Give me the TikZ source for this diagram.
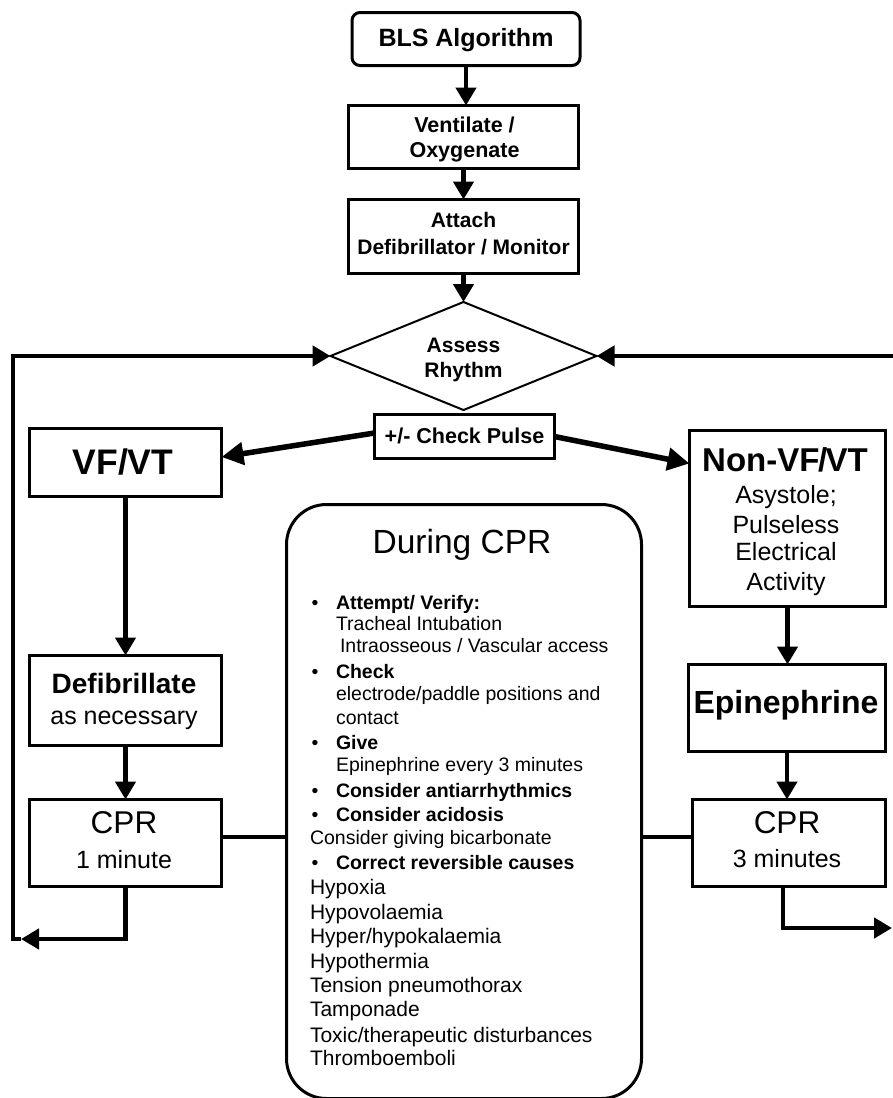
\documentclass[tikz,border=0pt]{standalone}
\usepackage{fontspec}
\setmainfont{Liberation Sans}
\usetikzlibrary{arrows.meta,calc,shapes.geometric}
\newcommand\fsz[1]{\fontsize{#1pt}{#1pt}\selectfont}
\begin{document}
\begin{tikzpicture}[x=1pt,y=-1pt,
  box/.style={draw,line width=3pt,inner sep=0pt,outer sep=0pt},
  t/.style={anchor=base,inner sep=0pt,outer sep=0pt},
  tl/.style={anchor=base west,inner sep=0pt,outer sep=0pt,font=\fsz{19.5}},
  tlb/.style={tl,font=\fsz{21}},
  tb/.style={tl,font={\fsz{19.5}\bfseries}},
  bul/.style={anchor=base,inner sep=0pt,outer sep=0pt,font=\fsz{19.5}},
  arr/.style={line width=4.5pt,line join=miter,-{Triangle[length=18pt,width=20pt]}},
  darr/.style={line width=5.5pt,-{Triangle[length=22pt,width=22pt]}},
  conn/.style={line width=4.5pt}
]
\useasboundingbox (0,0) rectangle (892,1098);
\fill[white] (0,0) rectangle (892,1098);

% boxes
\node[box,rounded corners=8pt,minimum width=228pt,minimum height=53pt] (bls) at (466,39) {};
\node[box,minimum width=230pt,minimum height=63pt] (vent) at (463.5,137) {};
\node[box,minimum width=230pt,minimum height=74pt] (attach) at (463.5,236.5) {};
\node[draw,diamond,line width=2pt,inner sep=0pt,outer sep=0pt,shape aspect=2.45,minimum width=266pt,minimum height=108pt] (assess) at (463.5,356) {};
\node[box,minimum width=180pt,minimum height=44pt] (cp) at (464.5,436.5) {};
\node[box,minimum width=192pt,minimum height=68pt] (vf) at (125.5,462.5) {};
\node[box,minimum width=196pt,minimum height=176pt] (nonvf) at (787.5,518.5) {};
\node[box,minimum width=192pt,minimum height=90pt] (defib) at (125.5,700.5) {};
\node[box,minimum width=192pt,minimum height=87pt] (cpr1) at (125.5,843) {};
\node[box,minimum width=197pt,minimum height=87pt] (epi) at (787,708) {};
\node[box,minimum width=193pt,minimum height=87pt] (cpr3) at (789,843) {};
\node[box,rounded corners=40pt,minimum width=355pt,minimum height=594pt] (during) at (464,801.5) {};

% box texts
\node[t,font={\fsz{25}\bfseries}] (tbls) at (466,46) {BLS Algorithm};
\node[t,font={\fsz{21.5}\bfseries}] (tvent1) at (464.5,132) {Ventilate /};
\node[t,font={\fsz{21.5}\bfseries}] (tvent2) at (464.5,157) {Oxygenate};
\node[t,font={\fsz{21}\bfseries}] (tatt1) at (463.5,227) {Attach};
\node[t,font={\fsz{21}\bfseries}] (tatt2) at (463.5,254) {Defibrillator / Monitor};
\node[t,font={\fsz{21}\bfseries}] (tas1) at (463.5,352) {Assess};
\node[t,font={\fsz{21}\bfseries}] (tas2) at (463.5,377) {Rhythm};
\node[t,font={\fsz{21.5}\bfseries}] (tcp) at (464.5,443) {+/- Check Pulse};
\node[t,font={\fsz{35.5}\bfseries}] (tvf) at (123,474) {VF/VT};
\node[t,font={\fsz{33}\bfseries}] (tnv1) at (785,471) {Non-VF\kern-1.5pt/\kern-1.5pt VT};
\node[t,font=\fsz{25}] (tnv2) at (786,503) {Asystole;};
\node[t,font=\fsz{25}] (tnv3) at (786,533) {Pulseless};
\node[t,font=\fsz{25}] (tnv4) at (786,560) {Electrical};
\node[t,font=\fsz{25}] (tnv5) at (786,590) {Activity};
\node[t,font={\fsz{28}\bfseries}] (tdf1) at (124,693) {Defibrillate};
\node[t,font=\fsz{25}] (tdf2) at (124,724) {as necessary};
\node[t,font=\fsz{31.5}] (tc1a) at (124,833) {CPR};
\node[t,font=\fsz{25}] (tc1b) at (124,868) {1 minute};
\node[t,font={\fsz{32}\bfseries}] (tepi) at (786,713) {Epinephrine};
\node[t,font=\fsz{31.5}] (tc3a) at (787,833) {CPR};
\node[t,font=\fsz{25}] (tc3b) at (787,867) {3 minutes};
\node[t,font=\fsz{33.5}] (tdur) at (462,553) {During CPR};

% list in During CPR
\node[bul] (b1) at (315,609) {•};
\node[tb] (i1) at (336,609) {Attempt/ Verify:};
\node[tl] (i2) at (336,630) {Tracheal Intubation};
\node[tl] (i3) at (340,652) {Intraosseous / Vascular access};
\node[bul] (b2) at (315,678) {•};
\node[tb] (i4) at (336,678) {Check};
\node[tl] (i5) at (336,700) {electrode/paddle positions and};
\node[tl] (i6) at (336,724) {contact};
\node[bul] (b3) at (315,749) {•};
\node[tb] (i7) at (336,749) {Give};
\node[tl] (i8) at (336,771) {Epinephrine every 3 minutes};
\node[bul] (b4) at (315,797) {•};
\node[tb] (i9) at (336,797) {Consider antiarrhythmics};
\node[bul] (b5) at (315,821) {•};
\node[tb] (i10) at (336,821) {Consider acidosis};
\node[tl] (i11) at (310,844) {Consider giving bicarbonate};
\node[bul] (b6) at (315,869) {•};
\node[tb] (i12) at (336,869) {Correct reversible causes};
\node[tlb] (i13) at (310,894) {Hypoxia};
\node[tlb] (i14) at (310,919) {Hypovolaemia};
\node[tlb] (i15) at (310,943) {Hyper/hypokalaemia};
\node[tlb] (i16) at (310,968) {Hypothermia};
\node[tlb] (i17) at (310,992) {Tension pneumothorax};
\node[tlb] (i18) at (310,1016) {Tamponade};
\node[tlb] (i19) at (310,1042) {Toxic/therapeutic disturbances};
\node[tlb] (i20) at (310,1065) {Thromboemboli};

% vertical arrows
\draw[arr] (bls.south) -- (bls.south |- vent.north);
\draw[arr] (vent.south) -- (vent.south |- attach.north);
\draw[arr] (attach.south) -- (attach.south |- assess.north);
\draw[arr] (vf.south) -- (vf.south |- defib.north);
\draw[arr] (defib.south) -- (defib.south |- cpr1.north);
\draw[arr] (nonvf.south) -- (nonvf.south |- epi.north);
\draw[arr] (epi.south) -- (epi.south |- cpr3.north);

% diagonal arrows
\draw[darr] ($(cp.west)+(0,-3.5)$) -- ($(vf.east)+(0,-5.5)$);
\draw[darr] (cp.east) -- ($(nonvf.west)+(0,-55)$);

% connectors to During CPR
\coordinate (c1) at ($(cpr1.east)+(0,-6)$);
\draw[conn] (c1) -- (c1 -| during.west);
\coordinate (c2) at ($(cpr3.west)+(0,-6)$);
\draw[conn] (c2) -- (c2 -| during.east);

% loops
\coordinate (ltip) at (21,939);
\coordinate (lcorner) at (13,939);
\draw[arr] (cpr1.south) |- (ltip);
\draw[arr] (ltip) -- (lcorner) |- (assess.west);
\coordinate (rtip) at (892,928);
\draw[arr] ([xshift=-6pt]cpr3.south) |- (rtip);
\coordinate (rstart) at (898,356);
\draw[arr] (rstart) -- (assess.east);
\end{tikzpicture}
\end{document}
